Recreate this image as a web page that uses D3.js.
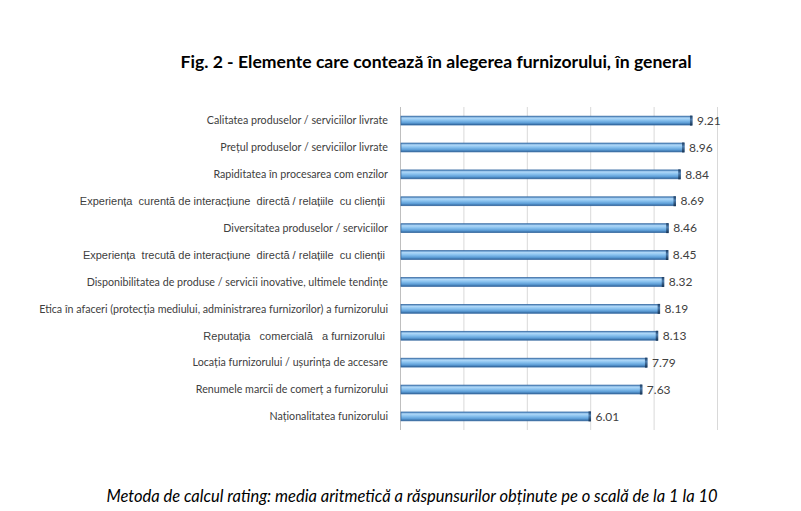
<!DOCTYPE html>
<html>
<head>
<meta charset="utf-8">
<script src="https://cdn.jsdelivr.net/npm/d3@7"></script>
<style>
  body { margin: 0; background: #fff; }
  svg { display: block; }
  .cat-label { font-family: Lato, "Open Sans", sans-serif; font-size: 10.7px; fill: #404040; white-space: pre; }
  .cat-label.arial { font-family: "Liberation Sans", Arial, sans-serif; font-size: 11px; }
  .value-label { font-family: Lato, sans-serif; font-size: 12px; fill: #404040; }
  .title { font-family: Lato, sans-serif; font-weight: bold; font-size: 17.6px; fill: #000; }
  .note { font-family: Lato, sans-serif; font-style: italic; font-size: 16.5px; fill: #000; }
  .grid line { stroke: #d9d9d9; stroke-width: 1; }
</style>
</head>
<body>
<svg id="chart"></svg>
<script>
// Data
const categories = [
  "Calitatea produselor / serviciilor livrate",
  "Prețul produselor / serviciilor livrate",
  "Rapiditatea în procesarea com enzilor",
  "Experiența  curentă de interacțiune  directă / relațiile  cu clienții ",
  "Diversitatea produselor / serviciilor",
  "Experiența  trecută de interacțiune  directă / relațiile  cu clienții ",
  "Disponibilitatea de produse / servicii inovative, ultimele tendințe",
  "Etica în afaceri (protecția mediului, administrarea furnizorilor) a furnizorului",
  "Reputația   comercială   a furnizorului ",
  "Locația furnizorului / ușurința de accesare",
  "Renumele marcii de comerț a furnizorului",
  "Naționalitatea funizorului"
];
const values = [9.21, 8.96, 8.84, 8.69, 8.46, 8.45, 8.32, 8.19, 8.13, 7.79, 7.63, 6.01];
// labels that the original set in an Arial-like face
const arialLabels = [3, 5, 8];
const gridTicks = [0, 2, 4, 6, 8, 10];

const title = "Fig. 2 - Elemente care contează în alegerea furnizorului, în general";
const note = "Metoda de calcul rating: media aritmetică a răspunsurilor obținute pe o scală de la 1 la 10";

const width = 801, height = 511;
const margin = { top: 107, left: 400, plotRight: 717, plotBottom: 430 };

const svg = d3.select("#chart").attr("width", width).attr("height", height);

const rows = categories.map((c, i) => ({ name: c, value: values[i], idx: i }));

const xScale = d3.scaleLinear().domain([0, 10]).range([margin.left, margin.plotRight]);
const yScale = d3.scaleBand()
  .domain(categories)
  .range([margin.top, margin.plotBottom])
  .paddingInner(0.67)
  .paddingOuter(0.34);

// Gradient for the cylinder-like bars
const defs = svg.append("defs");
const grad = defs.append("linearGradient")
  .attr("id", "barGrad").attr("x1", 0).attr("y1", 0).attr("x2", 0).attr("y2", 1);
[["0%", "#4a82bb"], ["22%", "#b0d8f8"], ["45%", "#8cc4f0"], ["75%", "#5e9fd8"], ["100%", "#2f6399"]]
  .forEach(([o, c]) => grad.append("stop").attr("offset", o).attr("stop-color", c));
const capGrad = defs.append("linearGradient")
  .attr("id", "capGrad").attr("x1", 0).attr("y1", 0).attr("x2", 0).attr("y2", 1);
[["0%", "#1b3a5e"], ["40%", "#4f7fb0"], ["100%", "#14304f"]]
  .forEach(([o, c]) => capGrad.append("stop").attr("offset", o).attr("stop-color", c));

// Vertical gridlines
svg.append("g")
  .attr("class", "grid")
  .selectAll("line")
  .data(gridTicks)
  .join("line")
  .attr("x1", d => xScale(d) + 0.5)
  .attr("x2", d => xScale(d) + 0.5)
  .attr("y1", margin.top)
  .attr("y2", margin.plotBottom)
  .style("stroke", d => d === 0 ? "#bfbfbf" : "#d9d9d9");

// Bars
const bar = svg.append("g").selectAll(".bar")
  .data(rows)
  .join("g")
  .attr("class", "bar");

bar.append("rect")
  .attr("x", xScale(0) + 1)
  .attr("y", d => yScale(d.name))
  .attr("width", d => xScale(d.value) - xScale(0) - 1)
  .attr("height", yScale.bandwidth())
  .attr("fill", "url(#barGrad)")
  .attr("stroke", "#3367a0")
  .attr("stroke-width", 0.7);

// dark end cap
bar.append("rect")
  .attr("x", d => xScale(d.value) - 2)
  .attr("y", d => yScale(d.name) - 0.5)
  .attr("width", 2.5)
  .attr("height", yScale.bandwidth() + 1)
  .attr("fill", "url(#capGrad)");

// Value labels
svg.append("g").selectAll("text")
  .data(rows)
  .join("text")
  .attr("class", "value-label")
  .attr("x", d => xScale(d.value) + 5)
  .attr("y", d => yScale(d.name) + yScale.bandwidth() / 2)
  .attr("dy", "0.35em")
  .text(d => d.value.toFixed(2));

// Category labels
svg.append("g").selectAll("text")
  .data(rows)
  .join("text")
  .attr("class", d => arialLabels.includes(d.idx) ? "cat-label arial" : "cat-label")
  .attr("x", margin.left - 12)
  .attr("y", d => yScale(d.name) + yScale.bandwidth() / 2)
  .attr("dy", "0.35em")
  .attr("text-anchor", "end")
  .text(d => d.name);

// Title and footnote
svg.append("text")
  .attr("class", "title")
  .attr("x", 436)
  .attr("y", 68)
  .attr("text-anchor", "middle")
  .text(title);

svg.append("text")
  .attr("class", "note")
  .attr("x", 412)
  .attr("y", 502)
  .attr("text-anchor", "middle")
  .text(note);
</script>
</body>
</html>
